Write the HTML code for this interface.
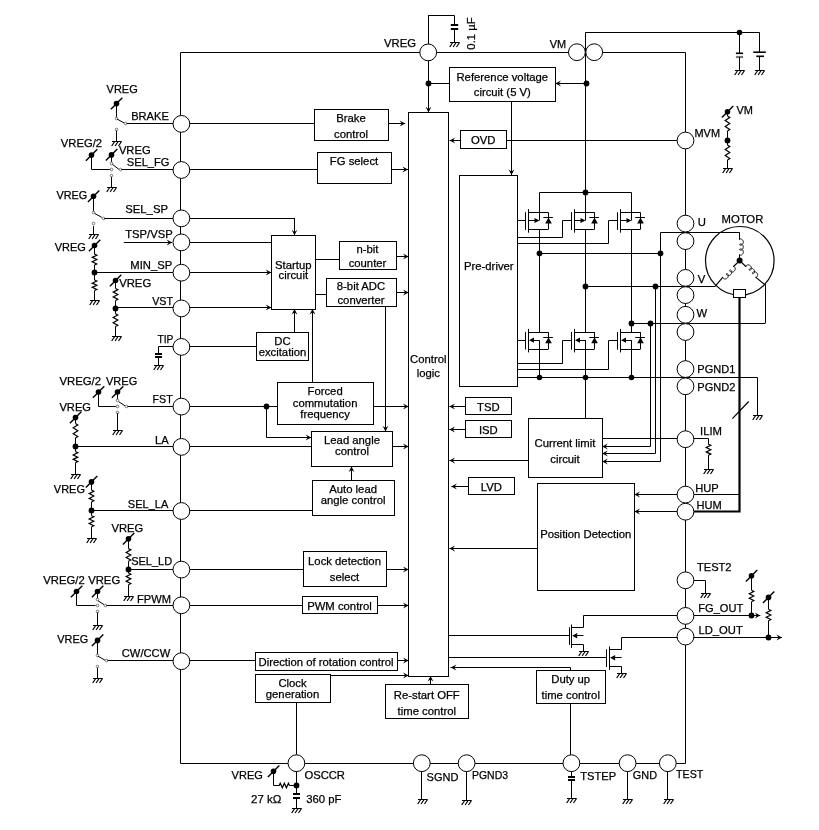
<!DOCTYPE html>
<html><head><meta charset="utf-8"><title>Block diagram</title>
<style>
html,body{margin:0;padding:0;background:#fff;}
body{width:819px;height:830px;overflow:hidden;}
svg{display:block;will-change:transform;}
text{font-family:"Liberation Sans",sans-serif;font-size:11.3px;fill:#000;stroke:#000;stroke-width:0.25px;}
</style></head><body>
<svg width="819" height="830" viewBox="0 0 819 830">
<g fill="none" stroke="#000" stroke-width="1" stroke-linecap="butt">
<polyline points="180.5,52.5 685.5,52.5 685.5,763.5 180.5,763.5 180.5,52.5"/>
<line x1="428.5" y1="52.4" x2="428.5" y2="15.4"/>
<line x1="428.2" y1="15.5" x2="454.3" y2="15.5"/>
<line x1="454.5" y1="15.4" x2="454.5" y2="24.8"/>
<line x1="450.8" y1="24.5" x2="458.2" y2="24.5" stroke-width="1"/>
<line x1="450.8" y1="25.5" x2="458.2" y2="25.5" stroke-width="1"/>
<line x1="450.8" y1="28.5" x2="458.2" y2="28.5" stroke-width="1"/>
<line x1="450.8" y1="29.5" x2="458.2" y2="29.5" stroke-width="1"/>
<line x1="454.5" y1="28.3" x2="454.5" y2="42.4"/>
<line x1="450" y1="42.5" x2="459.5" y2="42.5"/>
<line x1="452.7" y1="42.5" x2="449.7" y2="47" stroke-width="1.2"/>
<line x1="456.1" y1="42.5" x2="453.1" y2="47" stroke-width="1.2"/>
<line x1="459.5" y1="42.5" x2="456.5" y2="47" stroke-width="1.2"/>
<line x1="428.5" y1="52.4" x2="428.5" y2="112.4"/>
<polygon points="428.5,112.4 425.6,106.8 428.5,109 431.4,106.8" fill="#000" stroke="none"/>
<circle cx="428.5" cy="83.5" r="2.9" fill="#000" stroke="none"/>
<line x1="428.2" y1="83.5" x2="449.3" y2="83.5"/>
<rect x="449.5" y="67.5" width="106" height="34" fill="#fff"/>
<line x1="585.5" y1="32.5" x2="585.5" y2="192.3"/>
<circle cx="586.5" cy="83.5" r="2.9" fill="#000" stroke="none"/>
<line x1="585.4" y1="83.5" x2="555.4" y2="83.5"/>
<polygon points="555.4,83.5 561,80.6 558.8,83.5 561,86.4" fill="#000" stroke="none"/>
<line x1="511.5" y1="101.3" x2="511.5" y2="175"/>
<polygon points="511.5,175 508.6,169.4 511.5,171.6 514.4,169.4" fill="#000" stroke="none"/>
<line x1="585.4" y1="32.5" x2="759.6" y2="32.5"/>
<circle cx="739.5" cy="32.5" r="2.8" fill="#000" stroke="none"/>
<line x1="739.5" y1="32.5" x2="739.5" y2="53.3"/>
<line x1="735.9" y1="53.3" x2="743.1" y2="53.3" stroke-width="1.6"/>
<line x1="735.9" y1="57" x2="743.1" y2="57" stroke-width="2.2" stroke="#777"/>
<line x1="739.5" y1="57" x2="739.5" y2="70.4"/>
<line x1="735" y1="70.5" x2="744.5" y2="70.5"/>
<line x1="737.7" y1="70.5" x2="734.7" y2="75" stroke-width="1.2"/>
<line x1="741.1" y1="70.5" x2="738.1" y2="75" stroke-width="1.2"/>
<line x1="744.5" y1="70.5" x2="741.5" y2="75" stroke-width="1.2"/>
<line x1="759.5" y1="32.5" x2="759.5" y2="52.2"/>
<line x1="753.3" y1="52.2" x2="765.8" y2="52.2" stroke-width="1.6"/>
<line x1="756.3" y1="56.3" x2="764" y2="56.3" stroke-width="1.6"/>
<line x1="759.5" y1="56.3" x2="759.5" y2="70.4"/>
<line x1="755" y1="70.5" x2="764.5" y2="70.5"/>
<line x1="757.7" y1="70.5" x2="754.7" y2="75" stroke-width="1.2"/>
<line x1="761.1" y1="70.5" x2="758.1" y2="75" stroke-width="1.2"/>
<line x1="764.5" y1="70.5" x2="761.5" y2="75" stroke-width="1.2"/>
<rect x="408.5" y="112.5" width="40" height="564" fill="#fff"/>
<rect x="460.5" y="130.5" width="46" height="18" fill="#fff"/>
<line x1="460" y1="140.5" x2="449.6" y2="140.5"/>
<polygon points="449.6,140.5 455.2,137.6 453,140.5 455.2,143.4" fill="#000" stroke="none"/>
<line x1="506.3" y1="140.5" x2="685.4" y2="140.5"/>
<circle cx="727.5" cy="140.5" r="2.9" fill="#000" stroke="none"/>
<circle cx="727.5" cy="111.8" r="2.8" fill="#000" stroke="none"/>
<line x1="721.9" y1="117.5" x2="733.3" y2="106" stroke-width="1.4"/>
<polyline points="727.5,116 729.8,117.5 725.2,120.5 729.8,123.5 725.2,126.5 729.8,129.5 727.5,131" stroke-width="1.2"/>
<line x1="727.5" y1="111.8" x2="727.5" y2="116"/>
<line x1="727.5" y1="131" x2="727.5" y2="140.3"/>
<polyline points="727.5,145 729.8,146.5 725.2,149.5 729.8,152.5 725.2,155.5 729.8,158.5 727.5,160" stroke-width="1.2"/>
<line x1="727.5" y1="140.3" x2="727.5" y2="145"/>
<line x1="727.5" y1="160" x2="727.5" y2="168.8"/>
<line x1="723" y1="168.5" x2="732.5" y2="168.5"/>
<line x1="725.7" y1="168.5" x2="722.7" y2="173" stroke-width="1.2"/>
<line x1="729.1" y1="168.5" x2="726.1" y2="173" stroke-width="1.2"/>
<line x1="732.5" y1="168.5" x2="729.5" y2="173" stroke-width="1.2"/>
<rect x="314.5" y="109.5" width="74" height="31" fill="#fff"/>
<rect x="317.5" y="152.5" width="74" height="31" fill="#fff"/>
<rect x="271.5" y="235.5" width="44" height="74" fill="#fff"/>
<rect x="339.5" y="241.5" width="57" height="28" fill="#fff"/>
<rect x="326.5" y="278.5" width="70" height="28" fill="#fff"/>
<rect x="256.5" y="332.5" width="52" height="28" fill="#fff"/>
<rect x="277.5" y="382.5" width="96" height="42" fill="#fff"/>
<rect x="311.5" y="431.5" width="81" height="35" fill="#fff"/>
<rect x="312.5" y="480.5" width="82" height="35" fill="#fff"/>
<rect x="303.5" y="551.5" width="83" height="35" fill="#fff"/>
<rect x="302.5" y="596.5" width="75" height="17" fill="#fff"/>
<rect x="255.5" y="652.5" width="142" height="18" fill="#fff"/>
<rect x="255.5" y="674.5" width="75" height="28" fill="#fff"/>
<rect x="385.5" y="684.5" width="83" height="34" fill="#fff"/>
<line x1="181.2" y1="123.5" x2="314" y2="123.5"/>
<line x1="388.5" y1="123.5" x2="405.2" y2="123.5"/>
<polygon points="405.2,123.5 399.6,120.6 401.8,123.5 399.6,126.4" fill="#000" stroke="none"/>
<line x1="181.2" y1="169.5" x2="317" y2="169.5"/>
<line x1="391" y1="169.5" x2="408" y2="169.5"/>
<polygon points="408,169.5 402.4,166.6 404.6,169.5 402.4,172.4" fill="#000" stroke="none"/>
<line x1="181.2" y1="218.5" x2="294.3" y2="218.5"/>
<line x1="294.5" y1="218" x2="294.5" y2="235.3"/>
<polygon points="294.5,235.3 291.6,229.7 294.5,231.9 297.4,229.7" fill="#000" stroke="none"/>
<line x1="181.2" y1="242.5" x2="271.3" y2="242.5"/>
<line x1="123.8" y1="242.5" x2="172.2" y2="242.5"/>
<polygon points="172.2,242.5 166.6,239.6 168.8,242.5 166.6,245.4" fill="#000" stroke="none"/>
<line x1="181.2" y1="272.5" x2="271.3" y2="272.5"/>
<polygon points="271.3,272.5 265.7,269.6 267.9,272.5 265.7,275.4" fill="#000" stroke="none"/>
<line x1="181.2" y1="307.5" x2="271.3" y2="307.5"/>
<polygon points="271.3,307.5 265.7,304.6 267.9,307.5 265.7,310.4" fill="#000" stroke="none"/>
<line x1="315.3" y1="259.5" x2="339" y2="259.5"/>
<line x1="315.3" y1="294.5" x2="326" y2="294.5"/>
<line x1="396" y1="256.5" x2="408.6" y2="256.5"/>
<polygon points="408.6,256.5 403,253.6 405.2,256.5 403,259.4" fill="#000" stroke="none"/>
<line x1="396" y1="292.5" x2="408.6" y2="292.5"/>
<polygon points="408.6,292.5 403,289.6 405.2,292.5 403,295.4" fill="#000" stroke="none"/>
<line x1="181.2" y1="346.5" x2="256.3" y2="346.5"/>
<line x1="294.5" y1="332" x2="294.5" y2="309"/>
<polygon points="294.5,309 291.6,314.6 294.5,312.4 297.4,314.6" fill="#000" stroke="none"/>
<line x1="312.5" y1="382.4" x2="312.5" y2="309"/>
<polygon points="312.5,309 309.6,314.6 312.5,312.4 315.4,314.6" fill="#000" stroke="none"/>
<line x1="181.2" y1="406.5" x2="277.4" y2="406.5"/>
<circle cx="266.5" cy="406.5" r="2.9" fill="#000" stroke="none"/>
<polyline points="266.5,406.5 266.5,437.5 311.5,437.5"/>
<polygon points="311.2,437.5 305.6,434.6 307.8,437.5 305.6,440.4" fill="#000" stroke="none"/>
<line x1="373.7" y1="406.5" x2="408.6" y2="406.5"/>
<polygon points="408.6,406.5 403,403.6 405.2,406.5 403,409.4" fill="#000" stroke="none"/>
<line x1="385.5" y1="306" x2="385.5" y2="431.4"/>
<polygon points="385.5,431.4 382.6,425.8 385.5,428 388.4,425.8" fill="#000" stroke="none"/>
<line x1="181.2" y1="446.5" x2="311.2" y2="446.5"/>
<line x1="392.5" y1="446.5" x2="408.6" y2="446.5"/>
<polygon points="408.6,446.5 403,443.6 405.2,446.5 403,449.4" fill="#000" stroke="none"/>
<line x1="351.5" y1="480.4" x2="351.5" y2="466.5"/>
<polygon points="351.5,466.5 348.6,472.1 351.5,469.9 354.4,472.1" fill="#000" stroke="none"/>
<line x1="181.2" y1="510.5" x2="312.2" y2="510.5"/>
<line x1="181.2" y1="569.5" x2="303" y2="569.5"/>
<line x1="386.5" y1="569.5" x2="408.6" y2="569.5"/>
<polygon points="408.6,569.5 403,566.6 405.2,569.5 403,572.4" fill="#000" stroke="none"/>
<line x1="181.2" y1="605.5" x2="302.5" y2="605.5"/>
<line x1="377.5" y1="605.5" x2="408.6" y2="605.5"/>
<polygon points="408.6,605.5 403,602.6 405.2,605.5 403,608.4" fill="#000" stroke="none"/>
<line x1="181.2" y1="660.5" x2="255.3" y2="660.5"/>
<line x1="397.5" y1="660.5" x2="408.6" y2="660.5"/>
<polygon points="408.6,660.5 403,657.6 405.2,660.5 403,663.4" fill="#000" stroke="none"/>
<line x1="330.3" y1="675.5" x2="408.6" y2="675.5"/>
<polygon points="408.6,675.5 403,672.6 405.2,675.5 403,678.4" fill="#000" stroke="none"/>
<line x1="296.5" y1="702.3" x2="296.5" y2="763.2"/>
<line x1="430.5" y1="684" x2="430.5" y2="676"/>
<polygon points="430.5,676 427.6,681.6 430.5,679.4 433.4,681.6" fill="#000" stroke="none"/>
<rect x="459.5" y="175.5" width="58" height="211" fill="#fff"/>
<polyline points="539.5,212.5 539.5,192.5 631.5,192.5 631.5,212.5"/>
<circle cx="585.5" cy="192.5" r="2.9" fill="#000" stroke="none"/>
<line x1="585.5" y1="192.3" x2="585.5" y2="212.5"/>
<line x1="528.4" y1="212.5" x2="548.5" y2="212.5"/>
<line x1="528.4" y1="229.5" x2="548.5" y2="229.5"/>
<line x1="528.5" y1="209.2" x2="528.5" y2="232.7"/>
<line x1="525.5" y1="212.2" x2="525.5" y2="229.9"/>
<line x1="548.5" y1="212.5" x2="548.5" y2="229.3"/>
<polygon points="548.5,217.6 545.2,223.6 551.8,223.6" fill="#000" stroke="none"/>
<line x1="543.3" y1="217.5" x2="552.9" y2="217.5"/>
<line x1="539.5" y1="212.5" x2="539.5" y2="220.5"/>
<line x1="528.4" y1="220.5" x2="537.5" y2="220.5" stroke-width="1"/>
<polygon points="539.5,220.5 534.5,217.9 534.5,223.1" fill="#000" stroke="none"/>
<line x1="528.4" y1="332.5" x2="548.5" y2="332.5"/>
<line x1="528.4" y1="349.5" x2="548.5" y2="349.5"/>
<line x1="528.5" y1="328.9" x2="528.5" y2="352.4"/>
<line x1="525.5" y1="331.9" x2="525.5" y2="349.6"/>
<line x1="548.5" y1="332.2" x2="548.5" y2="349"/>
<polygon points="548.5,337.3 545.2,343.3 551.8,343.3" fill="#000" stroke="none"/>
<line x1="543.3" y1="337.5" x2="552.9" y2="337.5"/>
<line x1="539.5" y1="340.2" x2="539.5" y2="349"/>
<line x1="539.5" y1="340.5" x2="530.4" y2="340.5" stroke-width="1"/>
<polygon points="529,340.2 534,337.6 534,342.8" fill="#000" stroke="none"/>
<line x1="539.5" y1="229.3" x2="539.5" y2="332.3"/>
<line x1="539.5" y1="349" x2="539.5" y2="377.7"/>
<circle cx="539.5" cy="377.5" r="2.8" fill="#000" stroke="none"/>
<line x1="574.4" y1="212.5" x2="594.5" y2="212.5"/>
<line x1="574.4" y1="229.5" x2="594.5" y2="229.5"/>
<line x1="574.5" y1="209.2" x2="574.5" y2="232.7"/>
<line x1="571.5" y1="212.2" x2="571.5" y2="229.9"/>
<line x1="594.5" y1="212.5" x2="594.5" y2="229.3"/>
<polygon points="594.5,217.6 591.2,223.6 597.8,223.6" fill="#000" stroke="none"/>
<line x1="589.3" y1="217.5" x2="598.9" y2="217.5"/>
<line x1="585.5" y1="212.5" x2="585.5" y2="220.5"/>
<line x1="574.4" y1="220.5" x2="583.5" y2="220.5" stroke-width="1"/>
<polygon points="585.5,220.5 580.5,217.9 580.5,223.1" fill="#000" stroke="none"/>
<line x1="574.4" y1="332.5" x2="594.5" y2="332.5"/>
<line x1="574.4" y1="349.5" x2="594.5" y2="349.5"/>
<line x1="574.5" y1="328.9" x2="574.5" y2="352.4"/>
<line x1="571.5" y1="331.9" x2="571.5" y2="349.6"/>
<line x1="594.5" y1="332.2" x2="594.5" y2="349"/>
<polygon points="594.5,337.3 591.2,343.3 597.8,343.3" fill="#000" stroke="none"/>
<line x1="589.3" y1="337.5" x2="598.9" y2="337.5"/>
<line x1="585.5" y1="340.2" x2="585.5" y2="349"/>
<line x1="585.5" y1="340.5" x2="576.4" y2="340.5" stroke-width="1"/>
<polygon points="575,340.2 580,337.6 580,342.8" fill="#000" stroke="none"/>
<line x1="585.5" y1="229.3" x2="585.5" y2="332.3"/>
<line x1="585.5" y1="349" x2="585.5" y2="377.7"/>
<circle cx="585.5" cy="377.5" r="2.8" fill="#000" stroke="none"/>
<line x1="620.4" y1="212.5" x2="640.5" y2="212.5"/>
<line x1="620.4" y1="229.5" x2="640.5" y2="229.5"/>
<line x1="620.5" y1="209.2" x2="620.5" y2="232.7"/>
<line x1="617.5" y1="212.2" x2="617.5" y2="229.9"/>
<line x1="640.5" y1="212.5" x2="640.5" y2="229.3"/>
<polygon points="640.5,217.6 637.2,223.6 643.8,223.6" fill="#000" stroke="none"/>
<line x1="635.3" y1="217.5" x2="644.9" y2="217.5"/>
<line x1="631.5" y1="212.5" x2="631.5" y2="220.5"/>
<line x1="620.4" y1="220.5" x2="629.5" y2="220.5" stroke-width="1"/>
<polygon points="631.5,220.5 626.5,217.9 626.5,223.1" fill="#000" stroke="none"/>
<line x1="620.4" y1="332.5" x2="640.5" y2="332.5"/>
<line x1="620.4" y1="349.5" x2="640.5" y2="349.5"/>
<line x1="620.5" y1="328.9" x2="620.5" y2="352.4"/>
<line x1="617.5" y1="331.9" x2="617.5" y2="349.6"/>
<line x1="640.5" y1="332.2" x2="640.5" y2="349"/>
<polygon points="640.5,337.3 637.2,343.3 643.8,343.3" fill="#000" stroke="none"/>
<line x1="635.3" y1="337.5" x2="644.9" y2="337.5"/>
<line x1="631.5" y1="340.2" x2="631.5" y2="349"/>
<line x1="631.5" y1="340.5" x2="622.4" y2="340.5" stroke-width="1"/>
<polygon points="621,340.2 626,337.6 626,342.8" fill="#000" stroke="none"/>
<line x1="631.5" y1="229.3" x2="631.5" y2="332.3"/>
<line x1="631.5" y1="349" x2="631.5" y2="377.7"/>
<circle cx="631.5" cy="377.5" r="2.8" fill="#000" stroke="none"/>
<line x1="517.5" y1="220.5" x2="525.3" y2="220.5"/>
<polyline points="517.5,237.5 562.5,237.5 562.5,220.5 571.5,220.5"/>
<polyline points="517.5,243.5 608.5,243.5 608.5,220.5 617.5,220.5"/>
<line x1="517.5" y1="340.5" x2="525.3" y2="340.5"/>
<polyline points="517.5,363.5 562.5,363.5 562.5,340.5 571.5,340.5"/>
<polyline points="517.5,369.5 608.5,369.5 608.5,340.5 617.5,340.5"/>
<polyline points="517.5,377.5 757.5,377.5 757.5,415.5"/>
<line x1="753" y1="415.5" x2="762.5" y2="415.5"/>
<line x1="755.7" y1="415.5" x2="752.7" y2="420" stroke-width="1.2"/>
<line x1="759.1" y1="415.5" x2="756.1" y2="420" stroke-width="1.2"/>
<line x1="762.5" y1="415.5" x2="759.5" y2="420" stroke-width="1.2"/>
<line x1="539.5" y1="253.5" x2="660.7" y2="253.5"/>
<circle cx="539.5" cy="253.5" r="2.9" fill="#000" stroke="none"/>
<circle cx="660.5" cy="253.5" r="2.9" fill="#000" stroke="none"/>
<line x1="585.5" y1="286.5" x2="715.1" y2="286.5"/>
<circle cx="585.5" cy="286.5" r="2.9" fill="#000" stroke="none"/>
<circle cx="655.5" cy="286.5" r="2.9" fill="#000" stroke="none"/>
<line x1="631.5" y1="323.5" x2="765.3" y2="323.5"/>
<circle cx="631.5" cy="323.5" r="2.9" fill="#000" stroke="none"/>
<circle cx="650.5" cy="323.5" r="2.9" fill="#000" stroke="none"/>
<polyline points="739.5,239.5 739.5,232.5 660.5,232.5 660.5,461.5 602.5,461.5"/>
<polygon points="602.2,461.5 607.8,458.6 605.6,461.5 607.8,464.4" fill="#000" stroke="none"/>
<polyline points="655.5,286.5 655.5,453.5 602.5,453.5"/>
<polygon points="602.2,453.5 607.8,450.6 605.6,453.5 607.8,456.4" fill="#000" stroke="none"/>
<polyline points="650.5,323.5 650.5,446.5 602.5,446.5"/>
<polygon points="602.2,446.5 607.8,443.6 605.6,446.5 607.8,449.4" fill="#000" stroke="none"/>
<circle cx="739.8" cy="260.8" r="34.3" fill="none" stroke-width="1.2"/>
<line x1="765.5" y1="323.2" x2="765.5" y2="284.5"/>
<polyline points="739.5,232.5 739.5,239.5"/>
<polyline points="739.5,239.6 739.51,239.5 739.54,239.41 739.59,239.32 739.66,239.24 739.75,239.16 739.86,239.09 739.99,239.04 740.13,238.99 740.28,238.96 740.45,238.95 740.63,238.95 740.81,238.97 741,239 741.2,239.06 741.4,239.13 741.6,239.22 741.8,239.33 741.99,239.46 742.17,239.61 742.35,239.77 742.52,239.95 742.67,240.15 742.81,240.36 742.94,240.58 743.05,240.81 743.14,241.06 743.21,241.31 743.26,241.56 743.29,241.82 743.3,242.08 743.29,242.34 743.26,242.6 743.21,242.86 743.14,243.11 743.05,243.35 742.94,243.59 742.81,243.81 742.67,244.02 742.52,244.21 742.35,244.39 742.17,244.56 741.99,244.7 741.8,244.83 741.6,244.94 741.4,245.03 741.2,245.11 741,245.16 740.81,245.2 740.63,245.22 740.45,245.22 740.28,245.21 740.13,245.18 739.99,245.13 739.86,245.08 739.75,245.01 739.66,244.93 739.59,244.85 739.54,244.76 739.51,244.66 739.5,244.57 739.51,244.47 739.54,244.38 739.59,244.29 739.66,244.2 739.75,244.13 739.86,244.06 739.99,244 740.13,243.96 740.28,243.93 740.45,243.91 740.63,243.92 740.81,243.93 741,243.97 741.2,244.02 741.4,244.1 741.6,244.19 741.8,244.3 741.99,244.43 742.17,244.58 742.35,244.74 742.52,244.92 742.67,245.12 742.81,245.33 742.94,245.55 743.05,245.78 743.14,246.02 743.21,246.27 743.26,246.53 743.29,246.79 743.3,247.05 743.29,247.31 743.26,247.57 743.21,247.83 743.14,248.08 743.05,248.32 742.94,248.55 742.81,248.77 742.67,248.98 742.52,249.18 742.35,249.36 742.17,249.52 741.99,249.67 741.8,249.8 741.6,249.91 741.4,250 741.2,250.08 741,250.13 740.81,250.17 740.63,250.18 740.45,250.19 740.28,250.17 740.13,250.14 739.99,250.1 739.86,250.04 739.75,249.97 739.66,249.9 739.59,249.81 739.54,249.72 739.51,249.63 739.5,249.53 739.51,249.44 739.54,249.34 739.59,249.25 739.66,249.17 739.75,249.09 739.86,249.02 739.99,248.97 740.13,248.92 740.28,248.89 740.45,248.88 740.63,248.88 740.81,248.9 741,248.94 741.2,248.99 741.4,249.06 741.6,249.16 741.8,249.27 741.99,249.4 742.17,249.54 742.35,249.71 742.52,249.89 742.67,250.08 742.81,250.29 742.94,250.51 743.05,250.75 743.14,250.99 743.21,251.24 743.26,251.5 743.29,251.76 743.3,252.02 743.29,252.28 743.26,252.54 743.21,252.79 743.14,253.04 743.05,253.29 742.94,253.52 742.81,253.74 742.67,253.95 742.52,254.15 742.35,254.33 742.17,254.49 741.99,254.64 741.8,254.77 741.6,254.88 741.4,254.97 741.2,255.04 741,255.1 740.81,255.13 740.63,255.15 740.45,255.15 740.28,255.14 740.13,255.11 739.99,255.06 739.86,255.01 739.75,254.94 739.66,254.86 739.59,254.78 739.54,254.69 739.51,254.6 739.5,254.5" stroke-width="1"/>
<line x1="739.5" y1="254.5" x2="739.5" y2="260.6"/>
<line x1="715.1" y1="286.4" x2="722.9" y2="277.1" stroke-width="1.2"/>
<polyline points="733.3,266.7 733.38,266.64 733.47,266.59 733.57,266.57 733.68,266.56 733.8,266.56 733.92,266.59 734.05,266.64 734.18,266.71 734.31,266.8 734.44,266.9 734.57,267.03 734.68,267.17 734.8,267.33 734.9,267.51 734.99,267.7 735.06,267.91 735.12,268.12 735.17,268.35 735.2,268.58 735.21,268.82 735.2,269.07 735.17,269.32 735.12,269.56 735.05,269.81 734.97,270.05 734.86,270.28 734.73,270.51 734.59,270.72 734.43,270.93 734.25,271.12 734.06,271.3 733.86,271.46 733.64,271.6 733.41,271.73 733.18,271.83 732.94,271.92 732.7,271.99 732.45,272.04 732.2,272.06 731.96,272.07 731.72,272.06 731.48,272.04 731.26,271.99 731.04,271.93 730.83,271.85 730.64,271.76 730.47,271.66 730.31,271.55 730.16,271.43 730.04,271.31 729.93,271.18 729.84,271.05 729.77,270.92 729.73,270.79 729.7,270.66 729.69,270.54 729.7,270.43 729.73,270.33 729.77,270.24 729.83,270.17 729.91,270.11 730,270.06 730.1,270.03 730.21,270.02 730.33,270.03 730.45,270.06 730.58,270.11 730.71,270.17 730.85,270.26 730.97,270.37 731.1,270.49 731.22,270.64 731.33,270.8 731.43,270.98 731.52,271.17 731.6,271.37 731.66,271.59 731.7,271.82 731.73,272.05 731.74,272.29 731.73,272.53 731.7,272.78 731.66,273.03 731.59,273.27 731.5,273.51 731.39,273.75 731.27,273.97 731.12,274.19 730.96,274.4 730.79,274.59 730.6,274.76 730.39,274.92 730.17,275.07 729.95,275.19 729.71,275.3 729.47,275.39 729.23,275.46 728.98,275.5 728.73,275.53 728.49,275.54 728.25,275.53 728.02,275.5 727.79,275.46 727.57,275.4 727.37,275.32 727.18,275.23 727,275.13 726.84,275.02 726.69,274.9 726.57,274.77 726.46,274.65 726.37,274.51 726.31,274.38 726.26,274.25 726.23,274.13 726.22,274.01 726.23,273.9 726.26,273.8 726.31,273.71 726.37,273.63 726.44,273.57 726.53,273.53 726.63,273.5 726.74,273.49 726.86,273.5 726.99,273.53 727.12,273.57 727.25,273.64 727.38,273.73 727.51,273.84 727.63,273.96 727.75,274.11 727.86,274.27 727.96,274.44 728.05,274.63 728.13,274.84 728.19,275.06 728.24,275.28 728.26,275.52 728.27,275.76 728.26,276 728.24,276.25 728.19,276.5 728.12,276.74 728.03,276.98 727.93,277.21 727.8,277.44 727.66,277.66 727.5,277.86 727.32,278.05 727.13,278.23 726.92,278.39 726.71,278.53 726.48,278.66 726.25,278.77 726.01,278.85 725.76,278.92 725.52,278.97 725.27,279 725.02,279.01 724.78,279 724.55,278.97 724.32,278.92 724.11,278.86 723.9,278.79 723.71,278.7 723.53,278.6 723.37,278.48 723.23,278.37 723.1,278.24 723,278.11 722.91,277.98 722.84,277.85 722.79,277.72 722.76,277.6 722.76,277.48 722.77,277.37 722.79,277.27 722.84,277.18 722.9,277.1" stroke-width="1"/>
<line x1="733.3" y1="266.7" x2="739.6" y2="260.6" stroke-width="1.2"/>
<line x1="739.6" y1="260.6" x2="746.1" y2="266.7" stroke-width="1.2"/>
<polyline points="746.1,266.7 746.04,266.62 746,266.53 745.97,266.42 745.96,266.31 745.98,266.19 746.01,266.06 746.06,265.93 746.13,265.8 746.22,265.67 746.33,265.54 746.46,265.42 746.61,265.31 746.77,265.2 746.95,265.11 747.14,265.02 747.35,264.95 747.56,264.9 747.79,264.86 748.02,264.84 748.26,264.84 748.5,264.86 748.75,264.89 748.99,264.95 749.23,265.03 749.46,265.12 749.69,265.24 749.91,265.37 750.11,265.52 750.31,265.69 750.49,265.87 750.65,266.07 750.8,266.28 750.94,266.5 751.05,266.73 751.14,266.96 751.22,267.2 751.27,267.45 751.3,267.69 751.32,267.94 751.31,268.18 751.29,268.42 751.25,268.65 751.19,268.87 751.12,269.08 751.03,269.28 750.93,269.47 750.82,269.64 750.7,269.79 750.57,269.92 750.44,270.04 750.3,270.14 750.17,270.22 750.03,270.28 749.9,270.32 749.77,270.34 749.65,270.34 749.53,270.32 749.43,270.29 749.34,270.23 749.27,270.17 749.21,270.09 749.16,269.99 749.14,269.89 749.13,269.77 749.14,269.65 749.17,269.53 749.22,269.4 749.3,269.27 749.39,269.14 749.5,269.01 749.63,268.89 749.77,268.77 749.94,268.67 750.11,268.57 750.31,268.49 750.51,268.42 750.73,268.37 750.96,268.33 751.19,268.31 751.43,268.31 751.67,268.32 751.91,268.36 752.15,268.42 752.39,268.49 752.63,268.59 752.85,268.7 753.07,268.84 753.28,268.99 753.47,269.15 753.66,269.34 753.82,269.53 753.97,269.74 754.1,269.96 754.21,270.19 754.31,270.43 754.38,270.67 754.44,270.92 754.47,271.16 754.49,271.41 754.48,271.65 754.46,271.89 754.42,272.12 754.36,272.34 754.29,272.55 754.2,272.75 754.1,272.93 753.99,273.1 753.87,273.26 753.74,273.39 753.61,273.51 753.47,273.61 753.33,273.69 753.2,273.74 753.06,273.78 752.93,273.8 752.81,273.8 752.7,273.79 752.6,273.75 752.51,273.7 752.43,273.63 752.37,273.55 752.33,273.46 752.3,273.35 752.3,273.24 752.31,273.12 752.34,272.99 752.39,272.86 752.46,272.73 752.55,272.6 752.66,272.48 752.79,272.36 752.94,272.24 753.1,272.13 753.28,272.04 753.47,271.96 753.68,271.89 753.9,271.83 754.12,271.8 754.36,271.78 754.59,271.77 754.84,271.79 755.08,271.83 755.32,271.88 755.56,271.96 755.79,272.06 756.02,272.17 756.24,272.3 756.45,272.45 756.64,272.62 756.82,272.8 756.99,273 757.14,273.21 757.27,273.43 757.38,273.66 757.47,273.9 757.55,274.14 757.6,274.38 757.64,274.63 757.65,274.87 757.65,275.12 757.62,275.35 757.58,275.58 757.53,275.8 757.45,276.02 757.36,276.21 757.26,276.4 757.15,276.57 757.03,276.72 756.91,276.86 756.77,276.97 756.64,277.07 756.5,277.15 756.36,277.21 756.23,277.25 756.1,277.27 755.98,277.27 755.87,277.25 755.76,277.22 755.68,277.17 755.6,277.1" stroke-width="1"/>
<line x1="755.6" y1="277.1" x2="765.3" y2="285" stroke-width="1.2"/>
<circle cx="739.6" cy="260.6" r="3" fill="#000" stroke="none"/>
<rect x="733.5" y="289.5" width="12" height="8" fill="#fff"/>
<polyline points="739.5,297.5 739.5,511.5 685.5,511.5" stroke-width="2.2"/>
<line x1="685.4" y1="494.5" x2="739.5" y2="494.5"/>
<line x1="732.4" y1="418.6" x2="748.7" y2="401.5" stroke-width="1.2"/>
<rect x="465.5" y="397.5" width="46" height="17" fill="#fff"/>
<line x1="465.3" y1="406.5" x2="449.4" y2="406.5"/>
<polygon points="449.4,406.5 455,403.6 452.8,406.5 455,409.4" fill="#000" stroke="none"/>
<rect x="465.5" y="420.5" width="46" height="17" fill="#fff"/>
<line x1="465.3" y1="429.5" x2="449.4" y2="429.5"/>
<polygon points="449.4,429.5 455,426.6 452.8,429.5 455,432.4" fill="#000" stroke="none"/>
<rect x="528.5" y="418.5" width="74" height="59" fill="#fff"/>
<line x1="528" y1="460.5" x2="449.4" y2="460.5"/>
<polygon points="449.4,460.5 455,457.6 452.8,460.5 455,463.4" fill="#000" stroke="none"/>
<line x1="585.5" y1="377.7" x2="585.5" y2="418.5"/>
<line x1="602.2" y1="438.5" x2="685.4" y2="438.5"/>
<rect x="468.5" y="477.5" width="46" height="17" fill="#fff"/>
<line x1="468" y1="486.5" x2="451.3" y2="486.5"/>
<polygon points="451.3,486.5 456.9,483.6 454.7,486.5 456.9,489.4" fill="#000" stroke="none"/>
<rect x="537.5" y="483.5" width="97" height="107" fill="#fff"/>
<line x1="537.3" y1="548.5" x2="449.4" y2="548.5"/>
<polygon points="449.4,548.5 455,545.6 452.8,548.5 455,551.4" fill="#000" stroke="none"/>
<line x1="685.4" y1="494.5" x2="634.4" y2="494.5"/>
<polygon points="634.4,494.5 640,491.6 637.8,494.5 640,497.4" fill="#000" stroke="none"/>
<line x1="685.4" y1="511.5" x2="634.4" y2="511.5"/>
<polygon points="634.4,511.5 640,508.6 637.8,511.5 640,514.4" fill="#000" stroke="none"/>
<polyline points="685.5,438.5 708.5,438.5 708.5,444.5"/>
<polyline points="708.5,444.2 710.8,445.3 706.2,447.5 710.8,449.7 706.2,451.9 710.8,454.1 708.5,455.2" stroke-width="1.2"/>
<line x1="708.5" y1="455.2" x2="708.5" y2="469.9"/>
<line x1="704" y1="469.5" x2="713.5" y2="469.5"/>
<line x1="706.7" y1="469.5" x2="703.7" y2="474" stroke-width="1.2"/>
<line x1="710.1" y1="469.5" x2="707.1" y2="474" stroke-width="1.2"/>
<line x1="713.5" y1="469.5" x2="710.5" y2="474" stroke-width="1.2"/>
<polyline points="685.5,580.5 705.5,580.5 705.5,593.5"/>
<line x1="701" y1="593.5" x2="710.5" y2="593.5"/>
<line x1="703.7" y1="593.5" x2="700.7" y2="598" stroke-width="1.2"/>
<line x1="707.1" y1="593.5" x2="704.1" y2="598" stroke-width="1.2"/>
<line x1="710.5" y1="593.5" x2="707.5" y2="598" stroke-width="1.2"/>
<line x1="685.4" y1="615.5" x2="751.3" y2="615.5"/>
<line x1="751.3" y1="615.5" x2="760.3" y2="615.5"/>
<polygon points="760.3,615.5 754.7,612.6 756.9,615.5 754.7,618.4" fill="#000" stroke="none"/>
<circle cx="751.5" cy="615.5" r="2.9" fill="#000" stroke="none"/>
<circle cx="751.5" cy="575.7" r="2.8" fill="#000" stroke="none"/>
<line x1="745.9" y1="581.4" x2="757.3" y2="569.9" stroke-width="1.4"/>
<line x1="751.5" y1="575.7" x2="751.5" y2="590.3"/>
<polyline points="751.5,590.3 753.8,591.44 749.2,593.72 753.8,596 749.2,598.28 753.8,600.56 751.5,601.7" stroke-width="1.2"/>
<line x1="751.5" y1="601.7" x2="751.5" y2="615.7"/>
<line x1="685.4" y1="637.5" x2="768.5" y2="637.5"/>
<line x1="768.5" y1="637.5" x2="782" y2="637.5"/>
<polygon points="782,637.5 776.4,634.6 778.6,637.5 776.4,640.4" fill="#000" stroke="none"/>
<circle cx="768.5" cy="637.5" r="2.9" fill="#000" stroke="none"/>
<circle cx="768.5" cy="597.4" r="2.8" fill="#000" stroke="none"/>
<line x1="762.9" y1="603.1" x2="774.3" y2="591.6" stroke-width="1.4"/>
<line x1="768.5" y1="597.4" x2="768.5" y2="609.3"/>
<polyline points="768.5,609.3 770.8,610.44 766.2,612.72 770.8,615 766.2,617.28 770.8,619.56 768.5,620.7" stroke-width="1.2"/>
<line x1="768.5" y1="620.7" x2="768.5" y2="637.2"/>
<line x1="448.5" y1="635.5" x2="569.6" y2="635.5"/>
<line x1="569.5" y1="627.3" x2="569.5" y2="644.9"/>
<line x1="571.5" y1="624.5" x2="571.5" y2="647.9"/>
<polyline points="571.5,627.5 583.5,627.5 583.5,615.5"/>
<polyline points="571.5,644.5 583.5,644.5 583.5,651.5"/>
<line x1="583.5" y1="635.5" x2="573.4" y2="635.5" stroke-width="1"/>
<polygon points="572.2,635.8 577.2,633.1 577.2,638.5" fill="#000" stroke="none"/>
<line x1="579" y1="651.5" x2="588.5" y2="651.5"/>
<line x1="581.7" y1="651.5" x2="578.7" y2="656" stroke-width="1.2"/>
<line x1="585.1" y1="651.5" x2="582.1" y2="656" stroke-width="1.2"/>
<line x1="588.5" y1="651.5" x2="585.5" y2="656" stroke-width="1.2"/>
<line x1="583.5" y1="615.5" x2="685.4" y2="615.5"/>
<line x1="448.5" y1="657.5" x2="606.6" y2="657.5"/>
<line x1="606.5" y1="649.3" x2="606.5" y2="666.9"/>
<line x1="609.5" y1="646.5" x2="609.5" y2="669.9"/>
<polyline points="609.5,649.5 621.5,649.5 621.5,637.5"/>
<polyline points="609.5,666.5 621.5,666.5 621.5,673.5"/>
<line x1="621.6" y1="657.5" x2="611.3" y2="657.5" stroke-width="1"/>
<polygon points="610.1,657.8 615.1,655.1 615.1,660.5" fill="#000" stroke="none"/>
<line x1="617" y1="673.5" x2="626.5" y2="673.5"/>
<line x1="619.7" y1="673.5" x2="616.7" y2="678" stroke-width="1.2"/>
<line x1="623.1" y1="673.5" x2="620.1" y2="678" stroke-width="1.2"/>
<line x1="626.5" y1="673.5" x2="623.5" y2="678" stroke-width="1.2"/>
<line x1="621.6" y1="637.5" x2="685.4" y2="637.5"/>
<rect x="536.5" y="670.5" width="69" height="33" fill="#fff"/>
<polyline points="570.5,670.5 570.5,667.5 450.5,667.5"/>
<polygon points="450.8,667.5 456.4,664.6 454.2,667.5 456.4,670.4" fill="#000" stroke="none"/>
<line x1="570.5" y1="703" x2="570.5" y2="763.2"/>
<circle cx="116.5" cy="103.6" r="2.8" fill="#000" stroke="none"/>
<line x1="110.9" y1="109.3" x2="122.3" y2="97.8" stroke-width="1.4"/>
<line x1="116.5" y1="103.6" x2="116.5" y2="118.3"/>
<circle cx="116.5" cy="118.5" r="1.3" fill="#fff" stroke-width="0.8" stroke="#555"/>
<line x1="124.2" y1="123" x2="117" y2="119" stroke-width="1"/>
<circle cx="125.5" cy="123.5" r="1.3" fill="#fff" stroke-width="0.8" stroke="#555"/>
<line x1="126.7" y1="123.5" x2="181.2" y2="123.5"/>
<circle cx="116.5" cy="129.5" r="1.3" fill="#fff" stroke-width="0.8" stroke="#555"/>
<line x1="116.5" y1="130.6" x2="116.5" y2="141"/>
<line x1="112" y1="141.5" x2="121.5" y2="141.5"/>
<line x1="114.7" y1="141.5" x2="111.7" y2="146" stroke-width="1.2"/>
<line x1="118.1" y1="141.5" x2="115.1" y2="146" stroke-width="1.2"/>
<line x1="121.5" y1="141.5" x2="118.5" y2="146" stroke-width="1.2"/>
<circle cx="91.5" cy="155.1" r="2.8" fill="#000" stroke="none"/>
<line x1="85.9" y1="160.8" x2="97.3" y2="149.3" stroke-width="1.4"/>
<polyline points="91.5,155.5 91.5,169.5 110.5,169.5"/>
<circle cx="111.5" cy="154.9" r="2.8" fill="#000" stroke="none"/>
<line x1="105.9" y1="160.6" x2="117.3" y2="149.1" stroke-width="1.4"/>
<line x1="111.5" y1="154.9" x2="111.5" y2="162.2"/>
<circle cx="111.5" cy="163.5" r="1.3" fill="#fff" stroke-width="0.8" stroke="#555"/>
<circle cx="111.5" cy="169.5" r="1.3" fill="#fff" stroke-width="0.8" stroke="#555"/>
<circle cx="120.5" cy="169.5" r="1.3" fill="#fff" stroke-width="0.8" stroke="#555"/>
<circle cx="111.5" cy="175.5" r="1.3" fill="#fff" stroke-width="0.8" stroke="#555"/>
<line x1="118.8" y1="169.3" x2="112.4" y2="164.3" stroke-width="1"/>
<line x1="121.3" y1="169.5" x2="181.2" y2="169.5"/>
<line x1="111.5" y1="176.9" x2="111.5" y2="187.7"/>
<line x1="107" y1="187.5" x2="116.5" y2="187.5"/>
<line x1="109.7" y1="187.5" x2="106.7" y2="192" stroke-width="1.2"/>
<line x1="113.1" y1="187.5" x2="110.1" y2="192" stroke-width="1.2"/>
<line x1="116.5" y1="187.5" x2="113.5" y2="192" stroke-width="1.2"/>
<circle cx="93.5" cy="196.2" r="2.8" fill="#000" stroke="none"/>
<line x1="87.9" y1="201.9" x2="99.3" y2="190.4" stroke-width="1.4"/>
<line x1="93.5" y1="196.2" x2="93.5" y2="212.7"/>
<circle cx="93.5" cy="212.5" r="1.3" fill="#fff" stroke-width="0.8" stroke="#555"/>
<line x1="101.8" y1="217.4" x2="94.6" y2="213.4" stroke-width="1"/>
<circle cx="103.5" cy="218.5" r="1.3" fill="#fff" stroke-width="0.8" stroke="#555"/>
<line x1="104.3" y1="218.5" x2="181.2" y2="218.5"/>
<circle cx="93.5" cy="223.5" r="1.3" fill="#fff" stroke-width="0.8" stroke="#555"/>
<line x1="93.5" y1="226" x2="93.5" y2="234.4"/>
<line x1="89" y1="234.5" x2="98.5" y2="234.5"/>
<line x1="91.7" y1="234.5" x2="88.7" y2="239" stroke-width="1.2"/>
<line x1="95.1" y1="234.5" x2="92.1" y2="239" stroke-width="1.2"/>
<line x1="98.5" y1="234.5" x2="95.5" y2="239" stroke-width="1.2"/>
<circle cx="94.5" cy="245.5" r="2.8" fill="#000" stroke="none"/>
<line x1="88.9" y1="251.2" x2="100.3" y2="239.7" stroke-width="1.4"/>
<line x1="94.5" y1="245.5" x2="94.5" y2="254.1"/>
<polyline points="94.5,254.1 96.8,255.19 92.2,257.37 96.8,259.55 92.2,261.73 96.8,263.91 94.5,265" stroke-width="1.2"/>
<line x1="94.5" y1="265" x2="94.5" y2="280"/>
<circle cx="94.5" cy="272.5" r="2.9" fill="#000" stroke="none"/>
<line x1="94.1" y1="272.5" x2="181.2" y2="272.5"/>
<polyline points="94.5,280 96.8,281.05 92.2,283.15 96.8,285.25 92.2,287.35 96.8,289.45 94.5,290.5" stroke-width="1.2"/>
<line x1="94.5" y1="290.5" x2="94.5" y2="300.8"/>
<line x1="90" y1="300.5" x2="99.5" y2="300.5"/>
<line x1="92.7" y1="300.5" x2="89.7" y2="305" stroke-width="1.2"/>
<line x1="96.1" y1="300.5" x2="93.1" y2="305" stroke-width="1.2"/>
<line x1="99.5" y1="300.5" x2="96.5" y2="305" stroke-width="1.2"/>
<circle cx="115.5" cy="280.5" r="2.8" fill="#000" stroke="none"/>
<line x1="109.9" y1="286.2" x2="121.3" y2="274.7" stroke-width="1.4"/>
<line x1="115.5" y1="280.5" x2="115.5" y2="288.5"/>
<polyline points="115.5,288.5 117.8,289.7 113.2,292.1 117.8,294.5 113.2,296.9 117.8,299.3 115.5,300.5" stroke-width="1.2"/>
<line x1="115.5" y1="300.5" x2="115.5" y2="313.7"/>
<circle cx="115.5" cy="308.5" r="2.9" fill="#000" stroke="none"/>
<line x1="115.8" y1="307.5" x2="181.2" y2="307.5"/>
<polyline points="115.5,313.7 117.8,314.98 113.2,317.54 117.8,320.1 113.2,322.66 117.8,325.22 115.5,326.5" stroke-width="1.2"/>
<line x1="115.5" y1="326.5" x2="115.5" y2="336.8"/>
<line x1="112" y1="336.5" x2="121.5" y2="336.5"/>
<line x1="114.7" y1="336.5" x2="111.7" y2="341" stroke-width="1.2"/>
<line x1="118.1" y1="336.5" x2="115.1" y2="341" stroke-width="1.2"/>
<line x1="121.5" y1="336.5" x2="118.5" y2="341" stroke-width="1.2"/>
<polyline points="181.5,346.5 158.5,346.5 158.5,353.5"/>
<line x1="155" y1="353.5" x2="162" y2="353.5" stroke-width="1"/>
<line x1="155" y1="354.5" x2="162" y2="354.5" stroke-width="1"/>
<line x1="155" y1="356.5" x2="162" y2="356.5" stroke-width="1"/>
<line x1="155" y1="357.5" x2="162" y2="357.5" stroke-width="1"/>
<line x1="158.5" y1="356.6" x2="158.5" y2="365.8"/>
<line x1="154" y1="365.5" x2="163.5" y2="365.5"/>
<line x1="156.7" y1="365.5" x2="153.7" y2="370" stroke-width="1.2"/>
<line x1="160.1" y1="365.5" x2="157.1" y2="370" stroke-width="1.2"/>
<line x1="163.5" y1="365.5" x2="160.5" y2="370" stroke-width="1.2"/>
<circle cx="98.5" cy="392" r="2.8" fill="#000" stroke="none"/>
<line x1="92.9" y1="397.7" x2="104.3" y2="386.2" stroke-width="1.4"/>
<polyline points="98.5,392.5 98.5,406.5 116.5,406.5"/>
<circle cx="117.5" cy="392" r="2.8" fill="#000" stroke="none"/>
<line x1="111.9" y1="397.7" x2="123.3" y2="386.2" stroke-width="1.4"/>
<line x1="117.5" y1="392" x2="117.5" y2="399.5"/>
<circle cx="117.5" cy="400.5" r="1.3" fill="#fff" stroke-width="0.8" stroke="#555"/>
<circle cx="117.5" cy="406.5" r="1.3" fill="#fff" stroke-width="0.8" stroke="#555"/>
<circle cx="126.5" cy="406.5" r="1.3" fill="#fff" stroke-width="0.8" stroke="#555"/>
<circle cx="117.5" cy="412.5" r="1.3" fill="#fff" stroke-width="0.8" stroke="#555"/>
<line x1="125" y1="405.8" x2="118.8" y2="401.8" stroke-width="1"/>
<line x1="127.5" y1="406.5" x2="181.2" y2="406.5"/>
<line x1="117.5" y1="413.3" x2="117.5" y2="430.8"/>
<line x1="113" y1="430.5" x2="122.5" y2="430.5"/>
<line x1="115.7" y1="430.5" x2="112.7" y2="435" stroke-width="1.2"/>
<line x1="119.1" y1="430.5" x2="116.1" y2="435" stroke-width="1.2"/>
<line x1="122.5" y1="430.5" x2="119.5" y2="435" stroke-width="1.2"/>
<circle cx="75.5" cy="417.6" r="2.8" fill="#000" stroke="none"/>
<line x1="69.9" y1="423.3" x2="81.3" y2="411.8" stroke-width="1.4"/>
<line x1="75.5" y1="417.6" x2="75.5" y2="423.5"/>
<polyline points="75.5,423.5 77.8,424.95 73.2,427.85 77.8,430.75 73.2,433.65 77.8,436.55 75.5,438" stroke-width="1.2"/>
<line x1="75.5" y1="438" x2="75.5" y2="451.6"/>
<circle cx="75.5" cy="446.5" r="2.9" fill="#000" stroke="none"/>
<line x1="75.3" y1="446.5" x2="181.2" y2="446.5"/>
<polyline points="75.5,451.6 77.8,452.71 73.2,454.93 77.8,457.15 73.2,459.37 77.8,461.59 75.5,462.7" stroke-width="1.2"/>
<line x1="75.5" y1="462.7" x2="75.5" y2="474.7"/>
<line x1="71" y1="474.5" x2="80.5" y2="474.5"/>
<line x1="73.7" y1="474.5" x2="70.7" y2="479" stroke-width="1.2"/>
<line x1="77.1" y1="474.5" x2="74.1" y2="479" stroke-width="1.2"/>
<line x1="80.5" y1="474.5" x2="77.5" y2="479" stroke-width="1.2"/>
<circle cx="91.5" cy="481.9" r="2.8" fill="#000" stroke="none"/>
<line x1="85.9" y1="487.6" x2="97.3" y2="476.1" stroke-width="1.4"/>
<line x1="91.5" y1="481.9" x2="91.5" y2="490"/>
<polyline points="91.5,490 93.8,491.2 89.2,493.6 93.8,496 89.2,498.4 93.8,500.8 91.5,502" stroke-width="1.2"/>
<line x1="91.5" y1="502" x2="91.5" y2="515.7"/>
<circle cx="91.5" cy="510.5" r="2.9" fill="#000" stroke="none"/>
<line x1="91" y1="510.5" x2="181.2" y2="510.5"/>
<polyline points="91.5,515.7 93.8,516.81 89.2,519.03 93.8,521.25 89.2,523.47 93.8,525.69 91.5,526.8" stroke-width="1.2"/>
<line x1="91.5" y1="526.8" x2="91.5" y2="538.3"/>
<line x1="87" y1="538.5" x2="96.5" y2="538.5"/>
<line x1="89.7" y1="538.5" x2="86.7" y2="543" stroke-width="1.2"/>
<line x1="93.1" y1="538.5" x2="90.1" y2="543" stroke-width="1.2"/>
<line x1="96.5" y1="538.5" x2="93.5" y2="543" stroke-width="1.2"/>
<circle cx="128.5" cy="538.8" r="2.8" fill="#000" stroke="none"/>
<line x1="122.9" y1="544.5" x2="134.3" y2="533" stroke-width="1.4"/>
<line x1="128.5" y1="538.8" x2="128.5" y2="548.6"/>
<polyline points="128.5,548.6 130.8,549.87 126.2,552.41 130.8,554.95 126.2,557.49 130.8,560.03 128.5,561.3" stroke-width="1.2"/>
<line x1="128.5" y1="561.3" x2="128.5" y2="573"/>
<circle cx="128.5" cy="569.5" r="2.9" fill="#000" stroke="none"/>
<line x1="128.6" y1="569.5" x2="181.2" y2="569.5"/>
<polyline points="128.5,573 130.8,574.17 126.2,576.51 130.8,578.85 126.2,581.19 130.8,583.53 128.5,584.7" stroke-width="1.2"/>
<line x1="128.5" y1="584.7" x2="128.5" y2="596.2"/>
<line x1="124" y1="596.5" x2="133.5" y2="596.5"/>
<line x1="126.7" y1="596.5" x2="123.7" y2="601" stroke-width="1.2"/>
<line x1="130.1" y1="596.5" x2="127.1" y2="601" stroke-width="1.2"/>
<line x1="133.5" y1="596.5" x2="130.5" y2="601" stroke-width="1.2"/>
<circle cx="76.5" cy="591.5" r="2.8" fill="#000" stroke="none"/>
<line x1="70.9" y1="597.2" x2="82.3" y2="585.7" stroke-width="1.4"/>
<polyline points="76.5,591.5 76.5,605.5 95.5,605.5"/>
<circle cx="97.5" cy="591.5" r="2.8" fill="#000" stroke="none"/>
<line x1="91.9" y1="597.2" x2="103.3" y2="585.7" stroke-width="1.4"/>
<line x1="97.5" y1="591.5" x2="97.5" y2="598.6"/>
<circle cx="97.5" cy="599.5" r="1.3" fill="#fff" stroke-width="0.8" stroke="#555"/>
<circle cx="97.5" cy="605.5" r="1.3" fill="#fff" stroke-width="0.8" stroke="#555"/>
<circle cx="105.5" cy="605.5" r="1.3" fill="#fff" stroke-width="0.8" stroke="#555"/>
<circle cx="97.5" cy="611.5" r="1.3" fill="#fff" stroke-width="0.8" stroke="#555"/>
<line x1="104" y1="604.6" x2="98" y2="600.8" stroke-width="1"/>
<line x1="106.5" y1="605.5" x2="181.2" y2="605.5"/>
<line x1="97.5" y1="612.3" x2="97.5" y2="625.7"/>
<line x1="93" y1="625.5" x2="102.5" y2="625.5"/>
<line x1="95.7" y1="625.5" x2="92.7" y2="630" stroke-width="1.2"/>
<line x1="99.1" y1="625.5" x2="96.1" y2="630" stroke-width="1.2"/>
<line x1="102.5" y1="625.5" x2="99.5" y2="630" stroke-width="1.2"/>
<circle cx="97.5" cy="640.4" r="2.8" fill="#000" stroke="none"/>
<line x1="91.9" y1="646.1" x2="103.3" y2="634.6" stroke-width="1.4"/>
<line x1="97.5" y1="640.4" x2="97.5" y2="655.5"/>
<circle cx="97.5" cy="655.5" r="1.3" fill="#fff" stroke-width="0.8" stroke="#555"/>
<line x1="105" y1="660.2" x2="98" y2="656.2" stroke-width="1"/>
<circle cx="106.5" cy="660.5" r="1.3" fill="#fff" stroke-width="0.8" stroke="#555"/>
<line x1="107.5" y1="660.5" x2="181.2" y2="660.5"/>
<circle cx="97.5" cy="666.5" r="1.3" fill="#fff" stroke-width="0.8" stroke="#555"/>
<line x1="97.5" y1="667.8" x2="97.5" y2="678.4"/>
<line x1="93" y1="678.5" x2="102.5" y2="678.5"/>
<line x1="95.7" y1="678.5" x2="92.7" y2="683" stroke-width="1.2"/>
<line x1="99.1" y1="678.5" x2="96.1" y2="683" stroke-width="1.2"/>
<line x1="102.5" y1="678.5" x2="99.5" y2="683" stroke-width="1.2"/>
<circle cx="273.5" cy="771.2" r="2.8" fill="#000" stroke="none"/>
<line x1="267.9" y1="776.9" x2="279.3" y2="765.4" stroke-width="1.4"/>
<polyline points="273.5,771.5 273.5,785.5 279.5,785.5"/>
<polyline points="279.2,785.5 280.23,783.2 282.29,787.8 284.35,783.2 286.41,787.8 288.47,783.2 289.5,785.5" stroke-width="1.2"/>
<line x1="289.5" y1="785.5" x2="296" y2="785.5"/>
<line x1="296.5" y1="763.2" x2="296.5" y2="793.7"/>
<circle cx="296.5" cy="785.5" r="2.9" fill="#000" stroke="none"/>
<line x1="293" y1="793.5" x2="300" y2="793.5" stroke-width="1"/>
<line x1="293" y1="794.5" x2="300" y2="794.5" stroke-width="1"/>
<line x1="293" y1="797.5" x2="300" y2="797.5" stroke-width="1"/>
<line x1="293" y1="798.5" x2="300" y2="798.5" stroke-width="1"/>
<line x1="296.5" y1="797.6" x2="296.5" y2="808.6"/>
<line x1="292" y1="808.5" x2="301.5" y2="808.5"/>
<line x1="294.7" y1="808.5" x2="291.7" y2="813" stroke-width="1.2"/>
<line x1="298.1" y1="808.5" x2="295.1" y2="813" stroke-width="1.2"/>
<line x1="301.5" y1="808.5" x2="298.5" y2="813" stroke-width="1.2"/>
<line x1="421.5" y1="763.2" x2="421.5" y2="799.3"/>
<line x1="418" y1="799.5" x2="427.5" y2="799.5"/>
<line x1="420.7" y1="799.5" x2="417.7" y2="804" stroke-width="1.2"/>
<line x1="424.1" y1="799.5" x2="421.1" y2="804" stroke-width="1.2"/>
<line x1="427.5" y1="799.5" x2="424.5" y2="804" stroke-width="1.2"/>
<line x1="466.5" y1="763.2" x2="466.5" y2="800"/>
<line x1="462" y1="800.5" x2="471.5" y2="800.5"/>
<line x1="464.7" y1="800.5" x2="461.7" y2="805" stroke-width="1.2"/>
<line x1="468.1" y1="800.5" x2="465.1" y2="805" stroke-width="1.2"/>
<line x1="471.5" y1="800.5" x2="468.5" y2="805" stroke-width="1.2"/>
<line x1="571.5" y1="763.2" x2="571.5" y2="776.5"/>
<line x1="568" y1="776.5" x2="575" y2="776.5" stroke-width="1"/>
<line x1="568" y1="777.5" x2="575" y2="777.5" stroke-width="1"/>
<line x1="568" y1="779.5" x2="575" y2="779.5" stroke-width="1"/>
<line x1="568" y1="780.5" x2="575" y2="780.5" stroke-width="1"/>
<line x1="571.5" y1="779.6" x2="571.5" y2="798.3"/>
<line x1="567" y1="798.5" x2="576.5" y2="798.5"/>
<line x1="569.7" y1="798.5" x2="566.7" y2="803" stroke-width="1.2"/>
<line x1="573.1" y1="798.5" x2="570.1" y2="803" stroke-width="1.2"/>
<line x1="576.5" y1="798.5" x2="573.5" y2="803" stroke-width="1.2"/>
<line x1="627.5" y1="763.2" x2="627.5" y2="799.5"/>
<line x1="623" y1="799.5" x2="632.5" y2="799.5"/>
<line x1="625.7" y1="799.5" x2="622.7" y2="804" stroke-width="1.2"/>
<line x1="629.1" y1="799.5" x2="626.1" y2="804" stroke-width="1.2"/>
<line x1="632.5" y1="799.5" x2="629.5" y2="804" stroke-width="1.2"/>
<line x1="667.5" y1="763.2" x2="667.5" y2="799.5"/>
<line x1="664" y1="799.5" x2="673.5" y2="799.5"/>
<line x1="666.7" y1="799.5" x2="663.7" y2="804" stroke-width="1.2"/>
<line x1="670.1" y1="799.5" x2="667.1" y2="804" stroke-width="1.2"/>
<line x1="673.5" y1="799.5" x2="670.5" y2="804" stroke-width="1.2"/>
<circle cx="181.4" cy="123.9" r="8.4" fill="#fff"/>
<circle cx="181.4" cy="170" r="8.4" fill="#fff"/>
<circle cx="181.4" cy="218.4" r="8.4" fill="#fff"/>
<circle cx="181.4" cy="242.4" r="8.4" fill="#fff"/>
<circle cx="181.4" cy="272.7" r="8.4" fill="#fff"/>
<circle cx="181.4" cy="308.4" r="8.4" fill="#fff"/>
<circle cx="181.4" cy="346.9" r="8.4" fill="#fff"/>
<circle cx="181.4" cy="406.6" r="8.4" fill="#fff"/>
<circle cx="181.4" cy="446.9" r="8.4" fill="#fff"/>
<circle cx="181.4" cy="511" r="8.4" fill="#fff"/>
<circle cx="181.4" cy="569.6" r="8.4" fill="#fff"/>
<circle cx="181.4" cy="605.3" r="8.4" fill="#fff"/>
<circle cx="181.4" cy="661.2" r="8.4" fill="#fff"/>
<circle cx="685.5" cy="140.5" r="8.4" fill="#fff"/>
<circle cx="685.5" cy="223.6" r="8.4" fill="#fff"/>
<circle cx="685.5" cy="241.1" r="8.4" fill="#fff"/>
<circle cx="685.5" cy="277.9" r="8.4" fill="#fff"/>
<circle cx="685.5" cy="295.1" r="8.4" fill="#fff"/>
<circle cx="685.5" cy="314.8" r="8.4" fill="#fff"/>
<circle cx="685.5" cy="332" r="8.4" fill="#fff"/>
<circle cx="685.5" cy="369.1" r="8.4" fill="#fff"/>
<circle cx="685.5" cy="386.3" r="8.4" fill="#fff"/>
<circle cx="685.5" cy="439.2" r="8.4" fill="#fff"/>
<circle cx="685.5" cy="494.6" r="8.4" fill="#fff"/>
<circle cx="685.5" cy="511.7" r="8.4" fill="#fff"/>
<circle cx="685.5" cy="580.3" r="8.4" fill="#fff"/>
<circle cx="685.5" cy="615.9" r="8.4" fill="#fff"/>
<circle cx="685.5" cy="636.6" r="8.4" fill="#fff"/>
<circle cx="428.2" cy="52.4" r="8.4" fill="#fff"/>
<circle cx="576.9" cy="52.2" r="8.4" fill="#fff"/>
<circle cx="594.2" cy="52.2" r="8.4" fill="#fff"/>
<circle cx="296.4" cy="763.2" r="8.4" fill="#fff"/>
<circle cx="421.8" cy="763.2" r="8.4" fill="#fff"/>
<circle cx="466.6" cy="763.2" r="8.4" fill="#fff"/>
<circle cx="571.4" cy="763.2" r="8.4" fill="#fff"/>
<circle cx="627.6" cy="763.2" r="8.4" fill="#fff"/>
<circle cx="667.8" cy="763.2" r="8.4" fill="#fff"/>
<text x="106.6" y="93.3" textLength="31.1" lengthAdjust="spacingAndGlyphs">VREG</text>
<text x="131.2" y="119.9" textLength="37.6" lengthAdjust="spacingAndGlyphs">BRAKE</text>
<text x="60.8" y="147" textLength="41.2" lengthAdjust="spacingAndGlyphs">VREG/2</text>
<text x="118.9" y="154" textLength="31.8" lengthAdjust="spacingAndGlyphs">VREG</text>
<text x="126.8" y="166.4" textLength="42.7" lengthAdjust="spacingAndGlyphs">SEL_FG</text>
<text x="56.5" y="199" textLength="30.8" lengthAdjust="spacingAndGlyphs">VREG</text>
<text x="125.2" y="213.4" textLength="42.8" lengthAdjust="spacingAndGlyphs">SEL_SP</text>
<text x="125.2" y="237.8" textLength="47.5" lengthAdjust="spacingAndGlyphs">TSP/VSP</text>
<text x="54.8" y="251" textLength="31.1" lengthAdjust="spacingAndGlyphs">VREG</text>
<text x="130.3" y="269" textLength="41.9" lengthAdjust="spacingAndGlyphs">MIN_SP</text>
<text x="119.2" y="286.9" textLength="32" lengthAdjust="spacingAndGlyphs">VREG</text>
<text x="152.2" y="304.5" textLength="20.8" lengthAdjust="spacingAndGlyphs">VST</text>
<text x="157.4" y="342.5" textLength="16" lengthAdjust="spacingAndGlyphs">TIP</text>
<text x="59.4" y="385.2" textLength="41.6" lengthAdjust="spacingAndGlyphs">VREG/2</text>
<text x="106" y="385.2" textLength="31.2" lengthAdjust="spacingAndGlyphs">VREG</text>
<text x="152.6" y="402.8" textLength="20.1" lengthAdjust="spacingAndGlyphs">FST</text>
<text x="59.4" y="410.8" textLength="31.6" lengthAdjust="spacingAndGlyphs">VREG</text>
<text x="155.1" y="444.2" textLength="13.7" lengthAdjust="spacingAndGlyphs">LA</text>
<text x="53.8" y="493.2" textLength="31.2" lengthAdjust="spacingAndGlyphs">VREG</text>
<text x="127.8" y="508.1" textLength="40.5" lengthAdjust="spacingAndGlyphs">SEL_LA</text>
<text x="111.5" y="532" textLength="31.7" lengthAdjust="spacingAndGlyphs">VREG</text>
<text x="131.2" y="565.3" textLength="41" lengthAdjust="spacingAndGlyphs">SEL_LD</text>
<text x="43.3" y="584.4" textLength="41.4" lengthAdjust="spacingAndGlyphs">VREG/2</text>
<text x="88.2" y="584.4" textLength="32" lengthAdjust="spacingAndGlyphs">VREG</text>
<text x="137" y="602.8" textLength="34" lengthAdjust="spacingAndGlyphs">FPWM</text>
<text x="57.3" y="643" textLength="30.9" lengthAdjust="spacingAndGlyphs">VREG</text>
<text x="121.8" y="657" textLength="48.4" lengthAdjust="spacingAndGlyphs">CW/CCW</text>
<text x="384" y="46.5" textLength="32" lengthAdjust="spacingAndGlyphs">VREG</text>
<text x="549.8" y="47.9" textLength="16.4" lengthAdjust="spacingAndGlyphs">VM</text>
<text x="694.5" y="136.5" textLength="25.5" lengthAdjust="spacingAndGlyphs">MVM</text>
<text x="736.5" y="114" textLength="16.5" lengthAdjust="spacingAndGlyphs">VM</text>
<text x="721.5" y="222.8" textLength="41.8" lengthAdjust="spacingAndGlyphs">MOTOR</text>
<text x="697.3" y="373.3" textLength="38" lengthAdjust="spacingAndGlyphs">PGND1</text>
<text x="697.3" y="390.9" textLength="38" lengthAdjust="spacingAndGlyphs">PGND2</text>
<text x="700" y="434.5" textLength="22" lengthAdjust="spacingAndGlyphs">ILIM</text>
<text x="695.3" y="491.5" textLength="23.5" lengthAdjust="spacingAndGlyphs">HUP</text>
<text x="696.5" y="508.5" textLength="25.3" lengthAdjust="spacingAndGlyphs">HUM</text>
<text x="697" y="571" textLength="34.5" lengthAdjust="spacingAndGlyphs">TEST2</text>
<text x="698.3" y="612" textLength="45" lengthAdjust="spacingAndGlyphs">FG_OUT</text>
<text x="698.5" y="634" textLength="44.3" lengthAdjust="spacingAndGlyphs">LD_OUT</text>
<text x="231.6" y="778.9" textLength="31.2" lengthAdjust="spacingAndGlyphs">VREG</text>
<text x="304.4" y="779" textLength="40.6" lengthAdjust="spacingAndGlyphs">OSCCR</text>
<text x="251.1" y="803.1" textLength="30.3" lengthAdjust="spacingAndGlyphs">27 kΩ</text>
<text x="306.3" y="803.1" textLength="35.2" lengthAdjust="spacingAndGlyphs">360 pF</text>
<text x="426.6" y="781" textLength="31.8" lengthAdjust="spacingAndGlyphs">SGND</text>
<text x="472" y="778.9" textLength="36" lengthAdjust="spacingAndGlyphs">PGND3</text>
<text x="580.2" y="779.5" textLength="35.9" lengthAdjust="spacingAndGlyphs">TSTEP</text>
<text x="632.8" y="778.5" textLength="24.2" lengthAdjust="spacingAndGlyphs">GND</text>
<text x="676" y="778" textLength="27.3" lengthAdjust="spacingAndGlyphs">TEST</text>
<text x="697.8" y="226">U</text>
<text x="697.8" y="282.8">V</text>
<text x="696.5" y="317">W</text>
<text x="351" y="122.4" text-anchor="middle">Brake</text>
<text x="351" y="138.2" text-anchor="middle">control</text>
<text x="354" y="164.6" text-anchor="middle">FG select</text>
<text x="502.3" y="81.1" text-anchor="middle">Reference voltage</text>
<text x="502.3" y="96.3" text-anchor="middle">circuit (5 V)</text>
<text x="483.2" y="143.8" text-anchor="middle">OVD</text>
<text x="293.3" y="268.5" text-anchor="middle">Startup</text>
<text x="293.3" y="279" text-anchor="middle">circuit</text>
<text x="367.5" y="253.3" text-anchor="middle">n-bit</text>
<text x="367.5" y="267.3" text-anchor="middle">counter</text>
<text x="361" y="290.3" text-anchor="middle">8-bit ADC</text>
<text x="361" y="304" text-anchor="middle">converter</text>
<text x="282.5" y="344.8" text-anchor="middle">DC</text>
<text x="282.5" y="355.8" text-anchor="middle">excitation</text>
<text x="488.8" y="270.3" text-anchor="middle">Pre-driver</text>
<text x="428.3" y="362.8" text-anchor="middle">Control</text>
<text x="428.3" y="376.5" text-anchor="middle">logic</text>
<text x="325.1" y="395.4" text-anchor="middle">Forced</text>
<text x="325.1" y="406.6" text-anchor="middle">commutation</text>
<text x="325.1" y="418" text-anchor="middle">frequency</text>
<text x="488.3" y="411" text-anchor="middle">TSD</text>
<text x="488.3" y="433.5" text-anchor="middle">ISD</text>
<text x="352" y="444.1" text-anchor="middle">Lead angle</text>
<text x="352" y="454.9" text-anchor="middle">control</text>
<text x="565" y="447" text-anchor="middle">Current limit</text>
<text x="565" y="463" text-anchor="middle">circuit</text>
<text x="491.3" y="491" text-anchor="middle">LVD</text>
<text x="353.1" y="493.3" text-anchor="middle">Auto lead</text>
<text x="353.1" y="504.3" text-anchor="middle">angle control</text>
<text x="585.7" y="537.8" text-anchor="middle">Position Detection</text>
<text x="344.5" y="564.8" text-anchor="middle">Lock detection</text>
<text x="344.5" y="580.8" text-anchor="middle">select</text>
<text x="339.5" y="610.3" text-anchor="middle">PWM control</text>
<text x="326" y="665.8" text-anchor="middle">Direction of rotation control</text>
<text x="292.5" y="687" text-anchor="middle">Clock</text>
<text x="292.5" y="698.3" text-anchor="middle">generation</text>
<text x="426.8" y="698.6" text-anchor="middle">Re-start OFF</text>
<text x="426.8" y="714.5" text-anchor="middle">time control</text>
<text x="570.7" y="683.2" text-anchor="middle">Duty up</text>
<text x="570.7" y="699.3" text-anchor="middle">time control</text>
<text x="0" y="0" text-anchor="middle" transform="translate(475.1,33.5) rotate(-90)">0.1 µF</text>
</g>
</svg>
</body></html>
